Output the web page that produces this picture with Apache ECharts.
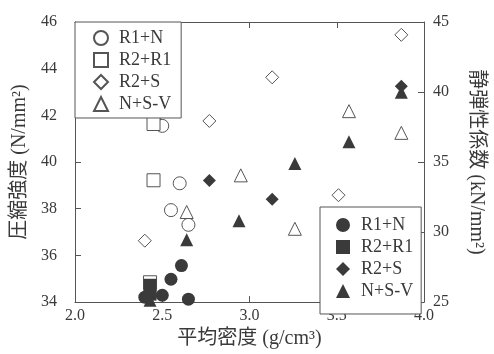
<!DOCTYPE html>
<html><head><meta charset="utf-8">
<script src="https://cdn.jsdelivr.net/npm/echarts@6/dist/echarts.min.js"></script>
<style>html,body{margin:0;padding:0;background:#fff}#c{width:494px;height:354px}</style>
</head><body><div id="c"></div>
<script>
// Axis ticks
const xTicks = [2.0, 2.5, 3.0, 3.5, 4.0];
const leftTicks = [34, 36, 38, 40, 42, 44, 46];
const rightTicks = [25, 30, 35, 40, 45];
const seriesNames = ['R1+N', 'R2+R1', 'R2+S', 'N+S-V'];

// Open markers: compressive strength (left axis)
const openR1N_x = [2.47, 2.50, 2.55, 2.60, 2.65];
const openR1N_y = [41.63, 41.55, 37.94, 39.09, 37.31];
const openR2R1_x = [2.45, 2.45, 2.43];
const openR2R1_y = [41.63, 39.22, 34.85];
const openR2S_x = [2.40, 2.77, 3.13, 3.51, 3.87];
const openR2S_y = [36.63, 41.76, 43.63, 38.58, 45.45];
const openNSV_x = [2.64, 2.95, 3.26, 3.57, 3.87];
const openNSV_y = [37.86, 39.43, 37.14, 42.18, 41.25];

// Filled markers: static elastic modulus (right axis)
const fillR1N_x = [2.40, 2.50, 2.55, 2.61, 2.65];
const fillR1N_y = [25.35, 25.49, 26.63, 27.61, 25.21];
const fillR2R1_x = [2.43, 2.43];
const fillR2R1_y = [26.2, 25.57];
const fillR2S_x = [2.41, 2.77, 3.13, 3.87];
const fillR2S_y = [25.42, 33.69, 32.35, 40.41];
const fillNSV_x = [2.43, 2.64, 2.94, 3.26, 3.57, 3.87];
const fillNSV_y = [25.14, 29.45, 30.8, 34.89, 36.45, 39.98];

const zip = (a, b) => a.map((v, i) => [v, b[i]]);
const TXT = '#3a3a3a';
const LINE = '#555';
const FONT = '"Liberation Serif", "Noto Sans CJK JP", serif';
const SUF = ' (E)';

const symbols = ['circle', 'rect', 'diamond', 'triangle'];
const openData = [zip(openR1N_x, openR1N_y), zip(openR2R1_x, openR2R1_y), zip(openR2S_x, openR2S_y), zip(openNSV_x, openNSV_y)];
const fillData = [zip(fillR1N_x, fillR1N_y), zip(fillR2R1_x, fillR2R1_y), zip(fillR2S_x, fillR2S_y), zip(fillNSV_x, fillNSV_y)];

const series = [];
seriesNames.forEach((n, i) => {
  series.push({
    name: n, type: 'scatter', xAxisIndex: 0, yAxisIndex: 0,
    symbol: symbols[i], symbolSize: 13, data: openData[i],
    itemStyle: { color: '#fff', borderColor: LINE, borderWidth: 1, opacity: 1 },
    z: 2
  });
});
seriesNames.forEach((n, i) => {
  series.push({
    name: n + SUF, type: 'scatter', xAxisIndex: 0, yAxisIndex: 1,
    symbol: symbols[i], symbolSize: 13, data: fillData[i],
    itemStyle: { color: '#3a3a3a', borderColor: '#3a3a3a', borderWidth: 0, opacity: 1 },
    z: 3
  });
});

const legendCommon = {
  orient: 'vertical',
  itemWidth: 14, itemHeight: 14, itemGap: 4,
  borderColor: LINE, borderWidth: 1, backgroundColor: '#fff',
  textStyle: { fontFamily: FONT, fontSize: 18, color: TXT, padding: [0, 0, 0, 6] },
  formatter: n => n.replace(SUF, ''),
  selectedMode: false
};

const chart = echarts.init(document.getElementById('c'), null, { renderer: 'canvas' });
chart.setOption({
  animation: false,
  backgroundColor: '#fff',
  textStyle: { fontFamily: FONT },
  grid: { left: 75, right: 68, top: 22, bottom: 49 },
  legend: [
    Object.assign({}, legendCommon, {
      left: 75, top: 22, padding: [7, 10, 5, 18],
      data: seriesNames.map(n => ({ name: n }))
    }),
    Object.assign({}, legendCommon, {
      left: 320, top: 207, padding: [9, 8, 14, 16],
      data: seriesNames.map(n => ({ name: n + SUF }))
    })
  ],
  xAxis: [{
    type: 'value', position: 'bottom',
    min: xTicks[0], max: xTicks[xTicks.length - 1], interval: 0.5,
    name: '平均密度 (g/cm³)', nameLocation: 'middle', nameGap: 23,
    nameTextStyle: { fontFamily: FONT, fontSize: 20, color: TXT },
    axisLine: { show: true, lineStyle: { color: LINE, width: 1 } },
    axisTick: { show: true, inside: true, length: 6, lineStyle: { color: LINE } },
    axisLabel: { fontFamily: FONT, fontSize: 16, color: TXT, margin: 6, formatter: v => v.toFixed(1) },
    splitLine: { show: false }
  }, {
    type: 'value', position: 'top',
    min: xTicks[0], max: xTicks[xTicks.length - 1], interval: 0.5,
    axisLine: { show: true, lineStyle: { color: LINE, width: 1 } },
    axisTick: { show: true, inside: true, length: 6, lineStyle: { color: LINE } },
    axisLabel: { show: false },
    splitLine: { show: false }
  }],
  yAxis: [{
    type: 'value', position: 'left',
    min: leftTicks[0], max: leftTicks[leftTicks.length - 1], interval: 2,
    name: '圧縮強度 (N/mm²)', nameLocation: 'middle', nameGap: 42, nameRotate: 90,
    nameTextStyle: { fontFamily: FONT, fontSize: 20, color: TXT },
    axisLine: { show: true, lineStyle: { color: LINE, width: 1 } },
    axisTick: { show: true, inside: true, length: 6, lineStyle: { color: LINE } },
    axisLabel: { fontFamily: FONT, fontSize: 16, color: TXT, margin: 18 },
    splitLine: { show: false }
  }, {
    type: 'value', position: 'right',
    min: rightTicks[0], max: rightTicks[rightTicks.length - 1], interval: 5,
    name: '静弾性係数 (kN/mm²)', nameLocation: 'middle', nameGap: 42, nameRotate: -90,
    nameTextStyle: { fontFamily: FONT, fontSize: 20, color: TXT },
    axisLine: { show: true, lineStyle: { color: LINE, width: 1 } },
    axisTick: { show: true, inside: true, length: 6, lineStyle: { color: LINE } },
    axisLabel: { fontFamily: FONT, fontSize: 16, color: TXT, margin: 9 },
    splitLine: { show: false }
  }],
  series: series
});
</script>
</body></html>
